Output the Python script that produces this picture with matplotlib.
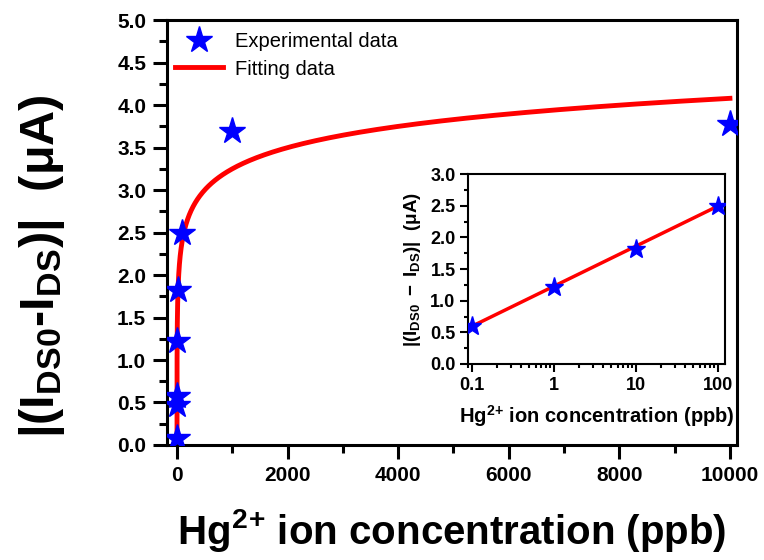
import numpy as np
import matplotlib
matplotlib.use('Agg')
import matplotlib.pyplot as plt
from matplotlib.ticker import MultipleLocator, LogLocator, FixedLocator, NullFormatter

plt.rcParams['font.family'] = ['Liberation Sans', 'DejaVu Sans']
plt.rcParams['mathtext.fontset'] = 'custom'
plt.rcParams['mathtext.rm'] = 'Liberation Sans'
plt.rcParams['mathtext.bf'] = 'Liberation Sans:bold'
plt.rcParams['mathtext.it'] = 'Liberation Sans:italic'

# measured response (ppb -> uA)
conc_all = [0.001, 0.01, 0.1, 1, 10, 100, 1000, 10000]
resp_all = [0.08, 0.47, 0.58, 1.22, 1.82, 2.50, 3.70, 3.78]

# linear range shown in the inset
conc_lin = [0.1, 1, 10, 100]
resp_lin = [0.60, 1.22, 1.82, 2.50]

# logarithmic fits: y = a + b*log10(x)
fit_all_a, fit_all_b = 0.76, 0.83
fit_lin_a, fit_lin_b = 1.23, 0.633

STAR = dict(marker='*', color='#0000ff', linestyle='none')
RED = '#ff0000'
HG = r'Hg$^{\mathbf{2}}$$^{\mathbf{+}}$ ion concentration (ppb)'

fig = plt.figure(figsize=(7.64, 5.6), dpi=100)
ax = fig.add_axes([0.2186, 0.2054, 0.746, 0.7586])

xf = np.logspace(-2, 4, 600)
ax.plot(conc_all, resp_all, markersize=20, label='Experimental data', zorder=3, **STAR)
ax.plot(xf, fit_all_a + fit_all_b * np.log10(xf), color=RED, lw=3.5,
        label='Fitting data', zorder=2)

ax.set_xlim(-180, 10127)
ax.set_ylim(0, 5.0)
ax.xaxis.set_major_locator(MultipleLocator(2000))
ax.xaxis.set_minor_locator(MultipleLocator(1000))
ax.yaxis.set_major_locator(MultipleLocator(0.5))
ax.yaxis.set_minor_locator(MultipleLocator(0.25))
ax.tick_params(which='major', direction='out', length=10, width=2.2,
               labelsize=15, pad=5)
ax.tick_params(which='minor', direction='out', length=5.5, width=2.2)
for lab in ax.get_xticklabels() + ax.get_yticklabels():
    lab.set_fontweight('bold')
for sp in ax.spines.values():
    sp.set_linewidth(2.2)

ax.set_xlabel(HG, fontsize=29, fontweight='bold', labelpad=16)
ax.set_ylabel(r'$\mathbf{|(I_{DS0}}$-$\mathbf{I_{DS})|}$  (μA)', fontsize=35,
              fontweight='bold')
ax.yaxis.set_label_coords(-0.175, 0.42)

leg = ax.legend(loc='upper left', fontsize=14.5, frameon=False, handlelength=2.4,
                borderaxespad=0.0, labelspacing=0.4, handletextpad=0.6,
                bbox_to_anchor=(0.0, 0.99))

# inset: linear region on log scale
ins = fig.add_axes([0.6126, 0.35, 0.3364, 0.339])
xl = np.logspace(-1, 2, 50)
ins.plot(xl, fit_lin_a + fit_lin_b * np.log10(xl), color=RED, lw=2.5, zorder=2)
ins.plot(conc_lin, resp_lin, markersize=14, zorder=3, **STAR)
ins.set_xscale('log')
ins.set_xlim(0.0894, 122)
ins.set_ylim(0, 3.0)
ins.xaxis.set_major_locator(FixedLocator([0.1, 1, 10, 100]))
ins.set_xticklabels(['0.1', '1', '10', '100'])
ins.xaxis.set_minor_locator(LogLocator(base=10, subs=np.arange(2, 10)))
ins.xaxis.set_minor_formatter(NullFormatter())
ins.yaxis.set_major_locator(MultipleLocator(0.5))
ins.yaxis.set_minor_locator(MultipleLocator(0.25))
ins.tick_params(which='major', direction='out', length=6, width=1.5,
                labelsize=13, pad=3)
ins.tick_params(which='minor', direction='out', length=3, width=1.5)
for lab in ins.get_xticklabels() + ins.get_yticklabels():
    lab.set_fontweight('bold')
for sp in ins.spines.values():
    sp.set_linewidth(1.5)
ins.set_xlabel(HG, fontsize=14.5, fontweight='bold', labelpad=7)
ins.set_ylabel(r'$\mathbf{|(I_{DS0}\ -\ I_{DS})|}$  (μA)', fontsize=13.5,
               fontweight='bold', labelpad=5)

fig.savefig('out.png', dpi=100)
